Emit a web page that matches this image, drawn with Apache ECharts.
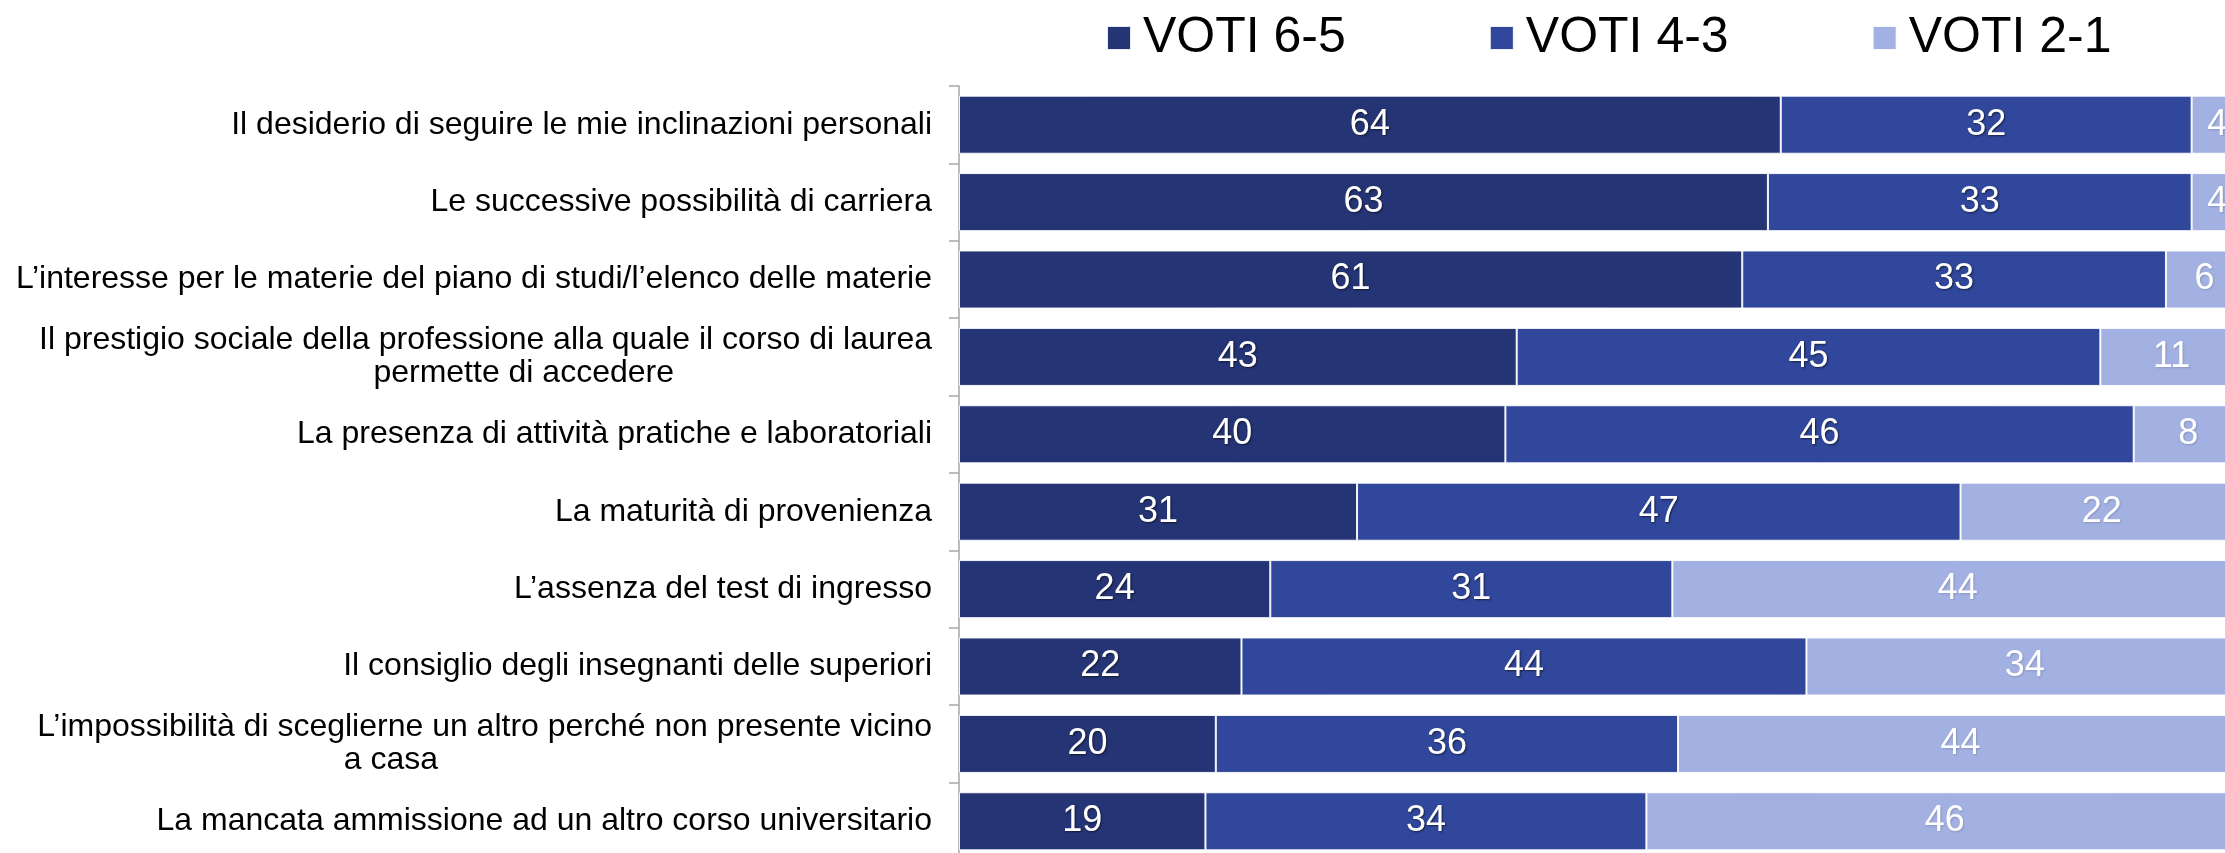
<!DOCTYPE html>
<html>
<head>
<meta charset="utf-8">
<script src="https://cdn.jsdelivr.net/npm/echarts@6/dist/echarts.min.js"></script>
<style>
html,body{margin:0;padding:0;background:#fff;overflow:hidden;width:2225px;height:853px;}
#main{width:2243px;height:860px;}
</style>
</head>
<body>
<div id="main"></div>
<script>
const categories = [
  "Il desiderio di seguire le mie inclinazioni personali",
  "Le successive possibilità di carriera",
  "L’interesse per le materie del piano di studi/l’elenco delle materie",
  "Il prestigio sociale della professione alla quale il corso di laurea\npermette di accedere",
  "La presenza di attività pratiche e laboratoriali",
  "La maturità di provenienza",
  "L’assenza del test di ingresso",
  "Il consiglio degli insegnanti delle superiori",
  "L’impossibilità di sceglierne un altro perché non presente vicino\na casa",
  "La mancata ammissione ad un altro corso universitario"
];
const seriesNames = ["VOTI 6-5", "VOTI 4-3", "VOTI 2-1"];
const voti65 = [64, 63, 61, 43, 40, 31, 24, 22, 20, 19];
const voti43 = [32, 33, 33, 45, 46, 47, 31, 44, 36, 34];
const voti21 = [4, 4, 6, 11, 8, 22, 44, 34, 44, 46];

const raw = [voti65, voti43, voti21];
const totals = categories.map((c, i) => voti65[i] + voti43[i] + voti21[i]);
const colors = ["#253474", "#30479B", "#A2B0E2"];
const FONT = "Liberation Sans, Arial, sans-serif";

function catLabel(v) {
  const parts = v.split("\n");
  if (parts.length === 1) return "{a|" + v + "}";
  const pad = v.indexOf("a casa") >= 0 ? "c" : "b";
  return "{a|" + parts[0] + "}\n{" + pad + "|" + parts[1] + "}";
}

const chart = echarts.init(document.getElementById("main"), null, {renderer: "canvas"});
chart.setOption({
  animation: false,
  backgroundColor: "#ffffff",
  legend: {
    data: seriesNames,
    left: 1101,
    top: 8,
    itemWidth: 24,
    itemHeight: 24,
    itemGap: 143,
    icon: "rect",
    textStyle: {fontFamily: FONT, fontSize: 50, color: "#000", padding: [0, 0, 0, 7]}
  },
  grid: {left: 959, right: 0, top: 86, bottom: 0, containLabel: false},
  xAxis: {
    type: "value", min: 0, max: 100,
    show: false,
    splitLine: {show: false}
  },
  yAxis: {
    type: "category",
    data: categories,
    inverse: true,
    axisLine: {show: true, lineStyle: {color: "#a6a6a6", width: 1.5}},
    axisTick: {show: true, length: 10, lineStyle: {color: "#a6a6a6", width: 1.5}},
    axisLabel: {
      margin: 27,
      fontFamily: FONT,
      color: "#000",
      fontSize: 32,
      align: "right",
      formatter: catLabel,
      rich: {
        a: {fontFamily: FONT, fontSize: 32, color: "#000", lineHeight: 33},
        b: {fontFamily: FONT, fontSize: 32, color: "#000", lineHeight: 33, padding: [0, 258, 0, 0]},
        c: {fontFamily: FONT, fontSize: 32, color: "#000", lineHeight: 33, padding: [0, 494, 0, 0]}
      }
    }
  },
  series: seriesNames.map((name, s) => ({
    name: name,
    type: "bar",
    stack: "tot",
    barCategoryGap: "25%",
    data: raw[s].map((v, i) => v / totals[i] * 100),
    itemStyle: {color: colors[s], borderColor: "rgba(255,255,255,0.9)", borderWidth: 1},
    label: {
      show: true,
      position: "inside",
      formatter: p => String(raw[s][p.dataIndex]),
      fontFamily: FONT,
      fontSize: 36,
      color: "#fff",
      textShadowColor: s < 2 ? "rgba(0,0,0,0.55)" : "rgba(0,0,0,0.15)",
      textShadowBlur: 2,
      textShadowOffsetX: 1,
      textShadowOffsetY: 1
    }
  }))
});
</script>
</body>
</html>
